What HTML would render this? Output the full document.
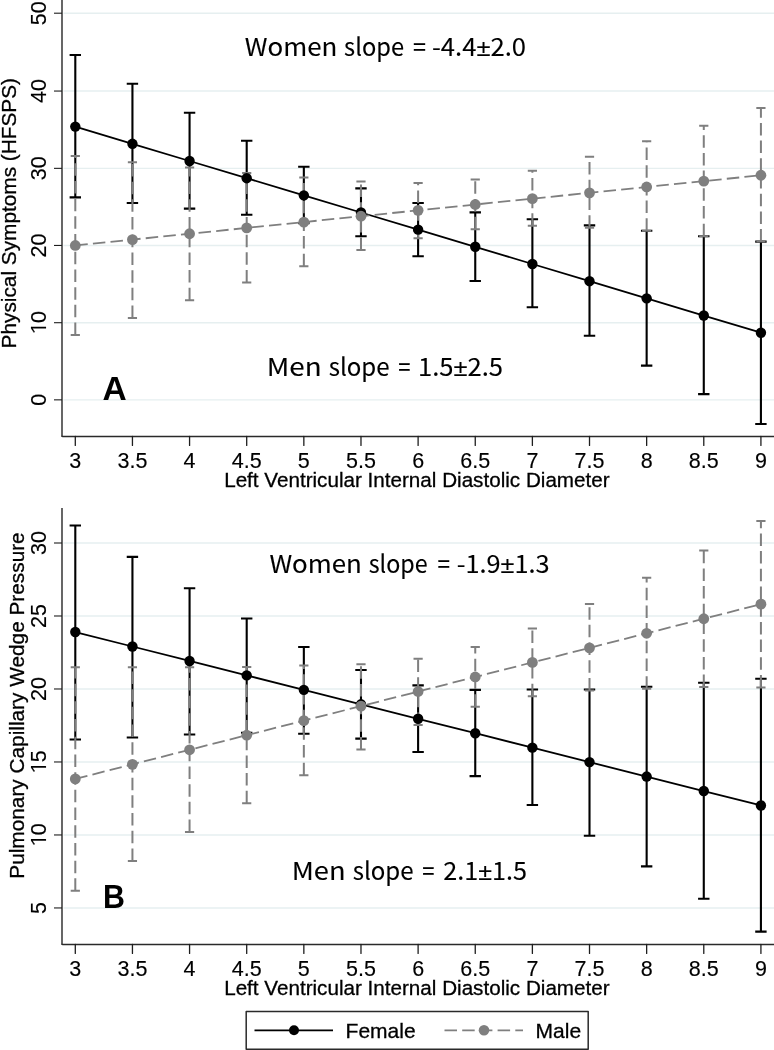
<!DOCTYPE html>
<html><head><meta charset="utf-8"><title>LVIDD plots</title>
<style>
html,body{margin:0;padding:0;background:#fff;}
svg{display:block;}
text{font-family:"Liberation Sans",Arial,sans-serif;fill:#000;stroke:#000;stroke-width:0.3px;}
.tl{font-size:21.5px;stroke-width:0.15px;}
.at{font-size:20.8px;}
.sl{font-size:24.5px;stroke-width:0.1px;}
.fnoto{font-family:"Noto Sans CJK JP","Liberation Sans",sans-serif;}
.flib{font-family:"Liberation Sans",sans-serif;}
.lt{font-size:32px;font-weight:bold;stroke-width:0;}
.lg{font-size:21px;}
.one{font-family:NanumGothic,"Liberation Sans",sans-serif;font-size:19.9px;}
</style></head><body>
<svg width="774" height="1050" viewBox="0 0 774 1050">
<rect width="774" height="1050" fill="#fff"/>
<line x1="63.5" y1="399.85" x2="774" y2="399.85" stroke="#e6eff0" stroke-width="1.4"/>
<line x1="63.5" y1="322.7" x2="774" y2="322.7" stroke="#e6eff0" stroke-width="1.4"/>
<line x1="63.5" y1="245.45" x2="774" y2="245.45" stroke="#e6eff0" stroke-width="1.4"/>
<line x1="63.5" y1="168.35" x2="774" y2="168.35" stroke="#e6eff0" stroke-width="1.4"/>
<line x1="63.5" y1="91.05" x2="774" y2="91.05" stroke="#e6eff0" stroke-width="1.4"/>
<line x1="63.5" y1="13.2" x2="774" y2="13.2" stroke="#e6eff0" stroke-width="1.4"/>
<path d="M62 0V436.5" stroke="#474747" stroke-width="1.65" fill="none"/>
<path d="M62 435.7Q62 436.5 62.8 436.5H775" stroke="#2a2a2a" stroke-width="1.6" fill="none"/>
<line x1="54" y1="399.85" x2="62" y2="399.85" stroke="#1e1e1e" stroke-width="1.1"/>
<text class="tl" transform="translate(45.6 399.85) rotate(-90)" text-anchor="middle">0</text>
<line x1="54" y1="322.7" x2="62" y2="322.7" stroke="#1e1e1e" stroke-width="1.1"/>
<g transform="translate(45.6 322.7) rotate(-90)"><text class="tl one" transform="translate(-13.3 0) scale(1.26 1)">1</text><text class="tl" x="-0.3">0</text></g>
<line x1="54" y1="245.45" x2="62" y2="245.45" stroke="#1e1e1e" stroke-width="1.1"/>
<text class="tl" transform="translate(45.6 245.45) rotate(-90)" text-anchor="middle">20</text>
<line x1="54" y1="168.35" x2="62" y2="168.35" stroke="#1e1e1e" stroke-width="1.1"/>
<text class="tl" transform="translate(45.6 168.35) rotate(-90)" text-anchor="middle">30</text>
<line x1="54" y1="91.05" x2="62" y2="91.05" stroke="#1e1e1e" stroke-width="1.1"/>
<text class="tl" transform="translate(45.6 91.05) rotate(-90)" text-anchor="middle">40</text>
<line x1="54" y1="13.2" x2="62" y2="13.2" stroke="#1e1e1e" stroke-width="1.1"/>
<text class="tl" transform="translate(45.6 13.2) rotate(-90)" text-anchor="middle">50</text>
<line x1="75.3" y1="436.5" x2="75.3" y2="445.4" stroke="#1e1e1e" stroke-width="1.3" stroke-linecap="round"/>
<text class="tl" x="75.3" y="467.7" text-anchor="middle">3</text>
<line x1="132.44" y1="436.5" x2="132.44" y2="445.4" stroke="#1e1e1e" stroke-width="1.3" stroke-linecap="round"/>
<text class="tl" x="132.44" y="467.7" text-anchor="middle">3.5</text>
<line x1="189.57" y1="436.5" x2="189.57" y2="445.4" stroke="#1e1e1e" stroke-width="1.3" stroke-linecap="round"/>
<text class="tl" x="189.57" y="467.7" text-anchor="middle">4</text>
<line x1="246.7" y1="436.5" x2="246.7" y2="445.4" stroke="#1e1e1e" stroke-width="1.3" stroke-linecap="round"/>
<text class="tl" x="246.7" y="467.7" text-anchor="middle">4.5</text>
<line x1="303.84" y1="436.5" x2="303.84" y2="445.4" stroke="#1e1e1e" stroke-width="1.3" stroke-linecap="round"/>
<text class="tl" x="303.84" y="467.7" text-anchor="middle">5</text>
<line x1="360.98" y1="436.5" x2="360.98" y2="445.4" stroke="#1e1e1e" stroke-width="1.3" stroke-linecap="round"/>
<text class="tl" x="360.98" y="467.7" text-anchor="middle">5.5</text>
<line x1="418.11" y1="436.5" x2="418.11" y2="445.4" stroke="#1e1e1e" stroke-width="1.3" stroke-linecap="round"/>
<text class="tl" x="418.11" y="467.7" text-anchor="middle">6</text>
<line x1="475.25" y1="436.5" x2="475.25" y2="445.4" stroke="#1e1e1e" stroke-width="1.3" stroke-linecap="round"/>
<text class="tl" x="475.25" y="467.7" text-anchor="middle">6.5</text>
<line x1="532.38" y1="436.5" x2="532.38" y2="445.4" stroke="#1e1e1e" stroke-width="1.3" stroke-linecap="round"/>
<text class="tl" x="532.38" y="467.7" text-anchor="middle">7</text>
<line x1="589.51" y1="436.5" x2="589.51" y2="445.4" stroke="#1e1e1e" stroke-width="1.3" stroke-linecap="round"/>
<text class="tl" x="589.51" y="467.7" text-anchor="middle">7.5</text>
<line x1="646.65" y1="436.5" x2="646.65" y2="445.4" stroke="#1e1e1e" stroke-width="1.3" stroke-linecap="round"/>
<text class="tl" x="646.65" y="467.7" text-anchor="middle">8</text>
<line x1="703.78" y1="436.5" x2="703.78" y2="445.4" stroke="#1e1e1e" stroke-width="1.3" stroke-linecap="round"/>
<text class="tl" x="703.78" y="467.7" text-anchor="middle">8.5</text>
<line x1="760.92" y1="436.5" x2="760.92" y2="445.4" stroke="#1e1e1e" stroke-width="1.3" stroke-linecap="round"/>
<text class="tl" x="760.92" y="467.7" text-anchor="middle">9</text>
<text class="at" x="416.9" y="486.9" text-anchor="middle" style="font-size:20.65px">Left Ventricular Internal Diastolic Diameter</text>
<text class="at" transform="translate(15.8 213.2) rotate(-90)" text-anchor="middle">Physical Symptoms (HFSPS)</text>
<path d="M75.3 197.34V54.93M69.6 54.93H81M69.6 197.34H81" stroke="#000" stroke-width="2.1" fill="none"/>
<path d="M132.44 203.04V83.73M126.73 83.73H138.13M126.73 203.04H138.13" stroke="#000" stroke-width="2.1" fill="none"/>
<path d="M189.57 208.67V112.69M183.87 112.69H195.27M183.87 208.67H195.27" stroke="#000" stroke-width="2.1" fill="none"/>
<path d="M246.7 214.69V140.68M241 140.68H252.4M241 214.69H252.4" stroke="#000" stroke-width="2.1" fill="none"/>
<path d="M303.84 223.09V166.8M298.14 166.8H309.54M298.14 223.09H309.54" stroke="#000" stroke-width="2.1" fill="none"/>
<path d="M360.98 236.2V188.4M355.28 188.4H366.68M355.28 236.2H366.68" stroke="#000" stroke-width="2.1" fill="none"/>
<path d="M418.11 256.26V203.04M412.41 203.04H423.81M412.41 256.26H423.81" stroke="#000" stroke-width="2.1" fill="none"/>
<path d="M475.25 280.99V212.37M469.55 212.37H480.94M469.55 280.99H480.94" stroke="#000" stroke-width="2.1" fill="none"/>
<path d="M532.38 307.25V219.24M526.68 219.24H538.08M526.68 307.25H538.08" stroke="#000" stroke-width="2.1" fill="none"/>
<path d="M589.51 335.82V225.4M583.81 225.4H595.22M583.81 335.82H595.22" stroke="#000" stroke-width="2.1" fill="none"/>
<path d="M646.65 365.6V230.8M640.95 230.8H652.35M640.95 365.6H652.35" stroke="#000" stroke-width="2.1" fill="none"/>
<path d="M703.78 394.14V236.2M698.08 236.2H709.49M698.08 394.14H709.49" stroke="#000" stroke-width="2.1" fill="none"/>
<path d="M760.92 424V241.59M755.22 241.59H766.62M755.22 424H766.62" stroke="#000" stroke-width="2.1" fill="none"/>
<path d="M75.3 335.04V155.98" stroke="#7f7f7f" stroke-width="2" fill="none" stroke-dasharray="12.5 5.2"/>
<path d="M70.7 155.98H79.9M70.7 335.04H79.9" stroke="#7f7f7f" stroke-width="2" fill="none"/>
<path d="M132.44 318.06V162.17" stroke="#7f7f7f" stroke-width="2" fill="none" stroke-dasharray="12.5 5.2"/>
<path d="M127.84 162.17H137.03M127.84 318.06H137.03" stroke="#7f7f7f" stroke-width="2" fill="none"/>
<path d="M189.57 300.3V167.58" stroke="#7f7f7f" stroke-width="2" fill="none" stroke-dasharray="12.5 5.2"/>
<path d="M184.97 167.58H194.17M184.97 300.3H194.17" stroke="#7f7f7f" stroke-width="2" fill="none"/>
<path d="M246.7 282.53V172.98" stroke="#7f7f7f" stroke-width="2" fill="none" stroke-dasharray="12.5 5.2"/>
<path d="M242.1 172.98H251.3M242.1 282.53H251.3" stroke="#7f7f7f" stroke-width="2" fill="none"/>
<path d="M303.84 266.31V177.6" stroke="#7f7f7f" stroke-width="2" fill="none" stroke-dasharray="12.5 5.2"/>
<path d="M299.24 177.6H308.44M299.24 266.31H308.44" stroke="#7f7f7f" stroke-width="2" fill="none"/>
<path d="M360.98 250.09V181.46" stroke="#7f7f7f" stroke-width="2" fill="none" stroke-dasharray="12.5 5.2"/>
<path d="M356.38 181.46H365.58M356.38 250.09H365.58" stroke="#7f7f7f" stroke-width="2" fill="none"/>
<path d="M418.11 238.36V183" stroke="#7f7f7f" stroke-width="2" fill="none" stroke-dasharray="12.5 5.2"/>
<path d="M413.51 183H422.71M413.51 238.36H422.71" stroke="#7f7f7f" stroke-width="2" fill="none"/>
<path d="M475.25 229.26V179.38" stroke="#7f7f7f" stroke-width="2" fill="none" stroke-dasharray="12.5 5.2"/>
<path d="M470.64 179.38H479.85M470.64 229.26H479.85" stroke="#7f7f7f" stroke-width="2" fill="none"/>
<path d="M532.38 225.87V170.66" stroke="#7f7f7f" stroke-width="2" fill="none" stroke-dasharray="12.5 5.2"/>
<path d="M527.78 170.66H536.98M527.78 225.87H536.98" stroke="#7f7f7f" stroke-width="2" fill="none"/>
<path d="M589.51 227.72V156.75" stroke="#7f7f7f" stroke-width="2" fill="none" stroke-dasharray="12.5 5.2"/>
<path d="M584.91 156.75H594.12M584.91 227.72H594.12" stroke="#7f7f7f" stroke-width="2" fill="none"/>
<path d="M646.65 230.8V141.29" stroke="#7f7f7f" stroke-width="2" fill="none" stroke-dasharray="12.5 5.2"/>
<path d="M642.05 141.29H651.25M642.05 230.8H651.25" stroke="#7f7f7f" stroke-width="2" fill="none"/>
<path d="M703.78 236.2V125.83" stroke="#7f7f7f" stroke-width="2" fill="none" stroke-dasharray="12.5 5.2"/>
<path d="M699.18 125.83H708.38M699.18 236.2H708.38" stroke="#7f7f7f" stroke-width="2" fill="none"/>
<path d="M760.92 241.59V108.06" stroke="#7f7f7f" stroke-width="2" fill="none" stroke-dasharray="12.5 5.2"/>
<path d="M756.32 108.06H765.52M756.32 241.59H765.52" stroke="#7f7f7f" stroke-width="2" fill="none"/>
<polyline points="75.3,126.61 132.44,143.81 189.57,161.01 246.7,178.18 303.84,195.33 360.98,212.49 418.11,229.64 475.25,246.8 532.38,263.99 589.51,281.18 646.65,298.37 703.78,315.55 760.92,332.73" stroke="#000" stroke-width="1.8" fill="none"/>
<circle cx="75.3" cy="126.61" r="5.2" fill="#000"/>
<circle cx="132.44" cy="143.81" r="5.2" fill="#000"/>
<circle cx="189.57" cy="161.01" r="5.2" fill="#000"/>
<circle cx="246.7" cy="178.18" r="5.2" fill="#000"/>
<circle cx="303.84" cy="195.33" r="5.2" fill="#000"/>
<circle cx="360.98" cy="212.49" r="5.2" fill="#000"/>
<circle cx="418.11" cy="229.64" r="5.2" fill="#000"/>
<circle cx="475.25" cy="246.8" r="5.2" fill="#000"/>
<circle cx="532.38" cy="263.99" r="5.2" fill="#000"/>
<circle cx="589.51" cy="281.18" r="5.2" fill="#000"/>
<circle cx="646.65" cy="298.37" r="5.2" fill="#000"/>
<circle cx="703.78" cy="315.55" r="5.2" fill="#000"/>
<circle cx="760.92" cy="332.73" r="5.2" fill="#000"/>
<polyline points="75.3,245.45 132.44,239.6 189.57,233.75 246.7,227.91 303.84,222.06 360.98,216.21 418.11,210.36 475.25,204.51 532.38,198.67 589.51,192.82 646.65,186.97 703.78,181.12 760.92,175.27" stroke="#7f7f7f" stroke-width="1.8" fill="none" stroke-dasharray="12.5 5.2"/>
<circle cx="75.3" cy="245.45" r="5.4" fill="#7f7f7f"/>
<circle cx="132.44" cy="239.6" r="5.4" fill="#7f7f7f"/>
<circle cx="189.57" cy="233.75" r="5.4" fill="#7f7f7f"/>
<circle cx="246.7" cy="227.91" r="5.4" fill="#7f7f7f"/>
<circle cx="303.84" cy="222.06" r="5.4" fill="#7f7f7f"/>
<circle cx="360.98" cy="216.21" r="5.4" fill="#7f7f7f"/>
<circle cx="418.11" cy="210.36" r="5.4" fill="#7f7f7f"/>
<circle cx="475.25" cy="204.51" r="5.4" fill="#7f7f7f"/>
<circle cx="532.38" cy="198.67" r="5.4" fill="#7f7f7f"/>
<circle cx="589.51" cy="192.82" r="5.4" fill="#7f7f7f"/>
<circle cx="646.65" cy="186.97" r="5.4" fill="#7f7f7f"/>
<circle cx="703.78" cy="181.12" r="5.4" fill="#7f7f7f"/>
<circle cx="760.92" cy="175.27" r="5.4" fill="#7f7f7f"/>
<text class="sl fnoto" transform="translate(244.80 56) scale(1.0570 1)">Women</text>
<text class="sl fnoto" transform="translate(344.10 56) scale(0.9665 1)">slope</text>
<text class="sl fnoto" transform="translate(413.00 56) scale(0.9538 1)">=</text>
<text class="sl" transform="translate(431.95 56) scale(1.0468 1)"><tspan class="fnoto">-4.4</tspan><tspan class="flib">±</tspan><tspan class="fnoto">2.0</tspan></text>
<text class="sl fnoto" transform="translate(266.73 376.3) scale(1.1334 1)">Men</text>
<text class="sl fnoto" transform="translate(328.70 376.3) scale(0.9827 1)">slope</text>
<text class="sl fnoto" transform="translate(398.30 376.3) scale(0.9000 1)">=</text>
<text class="sl" transform="translate(418.01 376.3) scale(1.0436 1)"><tspan class="fnoto">1.5</tspan><tspan class="flib">±</tspan><tspan class="fnoto">2.5</tspan></text>
<text class="lt" transform="translate(102.4 400) scale(1.0 1)" style="font-size:33.5px">A</text>
<line x1="63.5" y1="907.95" x2="774" y2="907.95" stroke="#e6eff0" stroke-width="1.4"/>
<line x1="63.5" y1="834.96" x2="774" y2="834.96" stroke="#e6eff0" stroke-width="1.4"/>
<line x1="63.5" y1="761.97" x2="774" y2="761.97" stroke="#e6eff0" stroke-width="1.4"/>
<line x1="63.5" y1="688.98" x2="774" y2="688.98" stroke="#e6eff0" stroke-width="1.4"/>
<line x1="63.5" y1="615.99" x2="774" y2="615.99" stroke="#e6eff0" stroke-width="1.4"/>
<line x1="63.5" y1="543" x2="774" y2="543" stroke="#e6eff0" stroke-width="1.4"/>
<path d="M62 508V944.5" stroke="#474747" stroke-width="1.65" fill="none"/>
<path d="M62 943.7Q62 944.5 62.8 944.5H775" stroke="#2a2a2a" stroke-width="1.6" fill="none"/>
<line x1="54" y1="907.95" x2="62" y2="907.95" stroke="#1e1e1e" stroke-width="1.1"/>
<text class="tl" transform="translate(45.6 907.95) rotate(-90)" text-anchor="middle">5</text>
<line x1="54" y1="834.96" x2="62" y2="834.96" stroke="#1e1e1e" stroke-width="1.1"/>
<g transform="translate(45.6 834.96) rotate(-90)"><text class="tl one" transform="translate(-13.3 0) scale(1.26 1)">1</text><text class="tl" x="-0.3">0</text></g>
<line x1="54" y1="761.97" x2="62" y2="761.97" stroke="#1e1e1e" stroke-width="1.1"/>
<g transform="translate(45.6 761.97) rotate(-90)"><text class="tl one" transform="translate(-13.3 0) scale(1.26 1)">1</text><text class="tl" x="-0.3">5</text></g>
<line x1="54" y1="688.98" x2="62" y2="688.98" stroke="#1e1e1e" stroke-width="1.1"/>
<text class="tl" transform="translate(45.6 688.98) rotate(-90)" text-anchor="middle">20</text>
<line x1="54" y1="615.99" x2="62" y2="615.99" stroke="#1e1e1e" stroke-width="1.1"/>
<text class="tl" transform="translate(45.6 615.99) rotate(-90)" text-anchor="middle">25</text>
<line x1="54" y1="543" x2="62" y2="543" stroke="#1e1e1e" stroke-width="1.1"/>
<text class="tl" transform="translate(45.6 543) rotate(-90)" text-anchor="middle">30</text>
<line x1="75.3" y1="944.5" x2="75.3" y2="953.4" stroke="#1e1e1e" stroke-width="1.3" stroke-linecap="round"/>
<text class="tl" x="75.3" y="975.7" text-anchor="middle">3</text>
<line x1="132.44" y1="944.5" x2="132.44" y2="953.4" stroke="#1e1e1e" stroke-width="1.3" stroke-linecap="round"/>
<text class="tl" x="132.44" y="975.7" text-anchor="middle">3.5</text>
<line x1="189.57" y1="944.5" x2="189.57" y2="953.4" stroke="#1e1e1e" stroke-width="1.3" stroke-linecap="round"/>
<text class="tl" x="189.57" y="975.7" text-anchor="middle">4</text>
<line x1="246.7" y1="944.5" x2="246.7" y2="953.4" stroke="#1e1e1e" stroke-width="1.3" stroke-linecap="round"/>
<text class="tl" x="246.7" y="975.7" text-anchor="middle">4.5</text>
<line x1="303.84" y1="944.5" x2="303.84" y2="953.4" stroke="#1e1e1e" stroke-width="1.3" stroke-linecap="round"/>
<text class="tl" x="303.84" y="975.7" text-anchor="middle">5</text>
<line x1="360.98" y1="944.5" x2="360.98" y2="953.4" stroke="#1e1e1e" stroke-width="1.3" stroke-linecap="round"/>
<text class="tl" x="360.98" y="975.7" text-anchor="middle">5.5</text>
<line x1="418.11" y1="944.5" x2="418.11" y2="953.4" stroke="#1e1e1e" stroke-width="1.3" stroke-linecap="round"/>
<text class="tl" x="418.11" y="975.7" text-anchor="middle">6</text>
<line x1="475.25" y1="944.5" x2="475.25" y2="953.4" stroke="#1e1e1e" stroke-width="1.3" stroke-linecap="round"/>
<text class="tl" x="475.25" y="975.7" text-anchor="middle">6.5</text>
<line x1="532.38" y1="944.5" x2="532.38" y2="953.4" stroke="#1e1e1e" stroke-width="1.3" stroke-linecap="round"/>
<text class="tl" x="532.38" y="975.7" text-anchor="middle">7</text>
<line x1="589.51" y1="944.5" x2="589.51" y2="953.4" stroke="#1e1e1e" stroke-width="1.3" stroke-linecap="round"/>
<text class="tl" x="589.51" y="975.7" text-anchor="middle">7.5</text>
<line x1="646.65" y1="944.5" x2="646.65" y2="953.4" stroke="#1e1e1e" stroke-width="1.3" stroke-linecap="round"/>
<text class="tl" x="646.65" y="975.7" text-anchor="middle">8</text>
<line x1="703.78" y1="944.5" x2="703.78" y2="953.4" stroke="#1e1e1e" stroke-width="1.3" stroke-linecap="round"/>
<text class="tl" x="703.78" y="975.7" text-anchor="middle">8.5</text>
<line x1="760.92" y1="944.5" x2="760.92" y2="953.4" stroke="#1e1e1e" stroke-width="1.3" stroke-linecap="round"/>
<text class="tl" x="760.92" y="975.7" text-anchor="middle">9</text>
<text class="at" x="416.9" y="994.9" text-anchor="middle" style="font-size:20.65px">Left Ventricular Internal Diastolic Diameter</text>
<text class="at" transform="translate(23.8 705.5) rotate(-90)" text-anchor="middle">Pulmonary Capillary Wedge Pressure</text>
<path d="M75.3 739.49V525.48M69.6 525.48H81M69.6 739.49H81" stroke="#000" stroke-width="2.1" fill="none"/>
<path d="M132.44 737.45V556.87M126.73 556.87H138.13M126.73 737.45H138.13" stroke="#000" stroke-width="2.1" fill="none"/>
<path d="M189.57 734.53V588.25M183.87 588.25H195.27M183.87 734.53H195.27" stroke="#000" stroke-width="2.1" fill="none"/>
<path d="M246.7 732.77V618.47M241 618.47H252.4M241 732.77H252.4" stroke="#000" stroke-width="2.1" fill="none"/>
<path d="M303.84 733.8V646.94M298.14 646.94H309.54M298.14 733.8H309.54" stroke="#000" stroke-width="2.1" fill="none"/>
<path d="M360.98 738.61V670M355.28 670H366.68M355.28 738.61H366.68" stroke="#000" stroke-width="2.1" fill="none"/>
<path d="M418.11 752.04V685.33M412.41 685.33H423.81M412.41 752.04H423.81" stroke="#000" stroke-width="2.1" fill="none"/>
<path d="M475.25 776.13V689.86M469.55 689.86H480.94M469.55 776.13H480.94" stroke="#000" stroke-width="2.1" fill="none"/>
<path d="M532.38 805.03V689.56M526.68 689.56H538.08M526.68 805.03H538.08" stroke="#000" stroke-width="2.1" fill="none"/>
<path d="M589.51 835.69V689.56M583.81 689.56H595.22M583.81 835.69H595.22" stroke="#000" stroke-width="2.1" fill="none"/>
<path d="M646.65 866.35V686.79M640.95 686.79H652.35M640.95 866.35H652.35" stroke="#000" stroke-width="2.1" fill="none"/>
<path d="M703.78 898.75V682.7M698.08 682.7H709.49M698.08 898.75H709.49" stroke="#000" stroke-width="2.1" fill="none"/>
<path d="M760.92 931.6V678.76M755.22 678.76H766.62M755.22 931.6H766.62" stroke="#000" stroke-width="2.1" fill="none"/>
<path d="M75.3 890.87V667.37" stroke="#7f7f7f" stroke-width="2" fill="none" stroke-dasharray="12.5 5.2"/>
<path d="M70.7 667.37H79.9M70.7 890.87H79.9" stroke="#7f7f7f" stroke-width="2" fill="none"/>
<path d="M132.44 860.94V667.37" stroke="#7f7f7f" stroke-width="2" fill="none" stroke-dasharray="12.5 5.2"/>
<path d="M127.84 667.37H137.03M127.84 860.94H137.03" stroke="#7f7f7f" stroke-width="2" fill="none"/>
<path d="M189.57 832.04V667.37" stroke="#7f7f7f" stroke-width="2" fill="none" stroke-dasharray="12.5 5.2"/>
<path d="M184.97 667.37H194.17M184.97 832.04H194.17" stroke="#7f7f7f" stroke-width="2" fill="none"/>
<path d="M246.7 803.28V667.08" stroke="#7f7f7f" stroke-width="2" fill="none" stroke-dasharray="12.5 5.2"/>
<path d="M242.1 667.08H251.3M242.1 803.28H251.3" stroke="#7f7f7f" stroke-width="2" fill="none"/>
<path d="M303.84 775.25V665.62" stroke="#7f7f7f" stroke-width="2" fill="none" stroke-dasharray="12.5 5.2"/>
<path d="M299.24 665.62H308.44M299.24 775.25H308.44" stroke="#7f7f7f" stroke-width="2" fill="none"/>
<path d="M360.98 749.56V664.16" stroke="#7f7f7f" stroke-width="2" fill="none" stroke-dasharray="12.5 5.2"/>
<path d="M356.38 664.16H365.58M356.38 749.56H365.58" stroke="#7f7f7f" stroke-width="2" fill="none"/>
<path d="M418.11 725.04V658.76" stroke="#7f7f7f" stroke-width="2" fill="none" stroke-dasharray="12.5 5.2"/>
<path d="M413.51 658.76H422.71M413.51 725.04H422.71" stroke="#7f7f7f" stroke-width="2" fill="none"/>
<path d="M475.25 706.64V646.94" stroke="#7f7f7f" stroke-width="2" fill="none" stroke-dasharray="12.5 5.2"/>
<path d="M470.64 646.94H479.85M470.64 706.64H479.85" stroke="#7f7f7f" stroke-width="2" fill="none"/>
<path d="M532.38 696.13V628.54" stroke="#7f7f7f" stroke-width="2" fill="none" stroke-dasharray="12.5 5.2"/>
<path d="M527.78 628.54H536.98M527.78 696.13H536.98" stroke="#7f7f7f" stroke-width="2" fill="none"/>
<path d="M589.51 690.44V604.02" stroke="#7f7f7f" stroke-width="2" fill="none" stroke-dasharray="12.5 5.2"/>
<path d="M584.91 604.02H594.12M584.91 690.44H594.12" stroke="#7f7f7f" stroke-width="2" fill="none"/>
<path d="M646.65 688.69V577.74" stroke="#7f7f7f" stroke-width="2" fill="none" stroke-dasharray="12.5 5.2"/>
<path d="M642.05 577.74H651.25M642.05 688.69H651.25" stroke="#7f7f7f" stroke-width="2" fill="none"/>
<path d="M703.78 687.08V550.44" stroke="#7f7f7f" stroke-width="2" fill="none" stroke-dasharray="12.5 5.2"/>
<path d="M699.18 550.44H708.38M699.18 687.08H708.38" stroke="#7f7f7f" stroke-width="2" fill="none"/>
<path d="M760.92 687.52V521.1" stroke="#7f7f7f" stroke-width="2" fill="none" stroke-dasharray="12.5 5.2"/>
<path d="M756.32 521.1H765.52M756.32 687.52H765.52" stroke="#7f7f7f" stroke-width="2" fill="none"/>
<polyline points="75.3,632.05 132.44,646.5 189.57,660.95 246.7,675.4 303.84,689.86 360.98,704.31 418.11,718.76 475.25,733.21 532.38,747.66 589.51,762.12 646.65,776.57 703.78,791.02 760.92,805.47" stroke="#000" stroke-width="1.8" fill="none"/>
<circle cx="75.3" cy="632.05" r="5.2" fill="#000"/>
<circle cx="132.44" cy="646.5" r="5.2" fill="#000"/>
<circle cx="189.57" cy="660.95" r="5.2" fill="#000"/>
<circle cx="246.7" cy="675.4" r="5.2" fill="#000"/>
<circle cx="303.84" cy="689.86" r="5.2" fill="#000"/>
<circle cx="360.98" cy="704.31" r="5.2" fill="#000"/>
<circle cx="418.11" cy="718.76" r="5.2" fill="#000"/>
<circle cx="475.25" cy="733.21" r="5.2" fill="#000"/>
<circle cx="532.38" cy="747.66" r="5.2" fill="#000"/>
<circle cx="589.51" cy="762.12" r="5.2" fill="#000"/>
<circle cx="646.65" cy="776.57" r="5.2" fill="#000"/>
<circle cx="703.78" cy="791.02" r="5.2" fill="#000"/>
<circle cx="760.92" cy="805.47" r="5.2" fill="#000"/>
<polyline points="75.3,778.9 132.44,764.34 189.57,749.78 246.7,735.22 303.84,720.66 360.98,706.1 418.11,691.53 475.25,676.97 532.38,662.41 589.51,647.85 646.65,633.29 703.78,618.73 760.92,604.17" stroke="#7f7f7f" stroke-width="1.8" fill="none" stroke-dasharray="12.5 5.2"/>
<circle cx="75.3" cy="778.9" r="5.4" fill="#7f7f7f"/>
<circle cx="132.44" cy="764.34" r="5.4" fill="#7f7f7f"/>
<circle cx="189.57" cy="749.78" r="5.4" fill="#7f7f7f"/>
<circle cx="246.7" cy="735.22" r="5.4" fill="#7f7f7f"/>
<circle cx="303.84" cy="720.66" r="5.4" fill="#7f7f7f"/>
<circle cx="360.98" cy="706.1" r="5.4" fill="#7f7f7f"/>
<circle cx="418.11" cy="691.53" r="5.4" fill="#7f7f7f"/>
<circle cx="475.25" cy="676.97" r="5.4" fill="#7f7f7f"/>
<circle cx="532.38" cy="662.41" r="5.4" fill="#7f7f7f"/>
<circle cx="589.51" cy="647.85" r="5.4" fill="#7f7f7f"/>
<circle cx="646.65" cy="633.29" r="5.4" fill="#7f7f7f"/>
<circle cx="703.78" cy="618.73" r="5.4" fill="#7f7f7f"/>
<circle cx="760.92" cy="604.17" r="5.4" fill="#7f7f7f"/>
<text class="sl fnoto" transform="translate(269.40 573.2) scale(1.0570 1)">Women</text>
<text class="sl fnoto" transform="translate(368.70 573.2) scale(0.9502 1)">slope</text>
<text class="sl fnoto" transform="translate(437.40 573.2) scale(0.9231 1)">=</text>
<text class="sl" transform="translate(456.67 573.2) scale(1.0332 1)"><tspan class="fnoto">-1.9</tspan><tspan class="flib">±</tspan><tspan class="fnoto">1.3</tspan></text>
<text class="sl fnoto" transform="translate(291.67 880.3) scale(1.1132 1)">Men</text>
<text class="sl fnoto" transform="translate(352.70 880.3) scale(0.9827 1)">slope</text>
<text class="sl fnoto" transform="translate(422.30 880.3) scale(0.9000 1)">=</text>
<text class="sl" transform="translate(443.30 880.3) scale(1.0277 1)"><tspan class="fnoto">2.1</tspan><tspan class="flib">±</tspan><tspan class="fnoto">1.5</tspan></text>
<text class="lt" transform="translate(102.9 908.4) scale(0.94 1)" style="font-size:32.3px">B</text>
<rect x="246.2" y="1011.6" width="342" height="37.6" fill="none" stroke="#2a2a2a" stroke-width="1.5" stroke-linejoin="round"/>
<line x1="254.5" y1="1030.3" x2="333" y2="1030.3" stroke="#000" stroke-width="1.8"/>
<circle cx="294" cy="1030.3" r="5" fill="#000"/>
<text class="lg" x="345.6" y="1037.6">Female</text>
<line x1="444.5" y1="1030.3" x2="523" y2="1030.3" stroke="#7f7f7f" stroke-width="1.8" stroke-dasharray="12.5 5.2"/>
<circle cx="484" cy="1030.3" r="5.3" fill="#7f7f7f"/>
<text class="lg" x="535.6" y="1037.6">Male</text>
</svg>
</body></html>
